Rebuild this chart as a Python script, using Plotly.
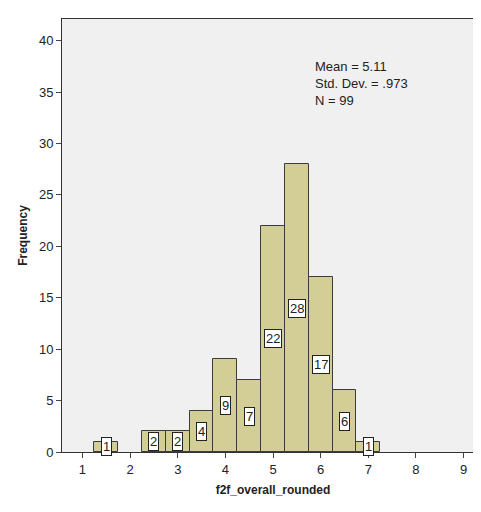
import plotly.graph_objects as go

# histogram of f2f_overall_rounded, bin width 0.5
bin_centers = [1.5, 2.5, 3.0, 3.5, 4.0, 4.5, 5.0, 5.5, 6.0, 6.5, 7.0]
counts = [1, 2, 2, 4, 9, 7, 22, 28, 17, 6, 1]
x_ticks = [1, 2, 3, 4, 5, 6, 7, 8, 9]
y_ticks = [0, 5, 10, 15, 20, 25, 30, 35, 40]
stats_text = "Mean = 5.11<br>Std. Dev. = .973<br>N = 99"

fig = go.Figure()
fig.add_trace(go.Bar(
    x=bin_centers, y=counts, width=0.5,
    marker=dict(color="#d3cd96", line=dict(color="#3c3c3c", width=1)),
    showlegend=False,
))

# count labels in white boxes at half bar height
for xc, c in zip(bin_centers, counts):
    fig.add_annotation(
        x=xc, y=c / 2, text=str(c), showarrow=False,
        font=dict(family="Arial, Liberation Sans", size=13, color="#222"),
        bgcolor="white", bordercolor="#222", borderwidth=1, borderpad=1,
    )

fig.add_annotation(
    x=5.85, y=38.4, xanchor="left", yanchor="top", text=stats_text,
    showarrow=False, align="left",
    font=dict(family="Arial, Liberation Sans", size=13, color="#222"),
)

fig.update_layout(
    width=481, height=512,
    margin=dict(l=54, r=5, t=11, b=68),
    paper_bgcolor="white", plot_bgcolor="#f0f0f0",
    bargap=0,
    font=dict(family="Arial, Liberation Sans", size=13, color="#222"),
    xaxis=dict(
        range=[0.57, 9.43], tickvals=x_ticks, ticks="outside", ticklen=5,
        showgrid=False, zeroline=False, showline=True, linecolor="#333", mirror=True,
        automargin=False,
        title=dict(text="<b>f2f_overall_rounded</b>", font=dict(size=12), standoff=10),
    ),
    yaxis=dict(
        range=[0, 42.1], tickvals=y_ticks, ticks="outside", ticklen=5,
        showgrid=False, zeroline=False, showline=True, linecolor="#333", mirror=True,
        automargin=False,
        title=dict(text="<b>Frequency</b>", font=dict(size=12), standoff=8),
    ),
)

fig.write_html("out.html")
